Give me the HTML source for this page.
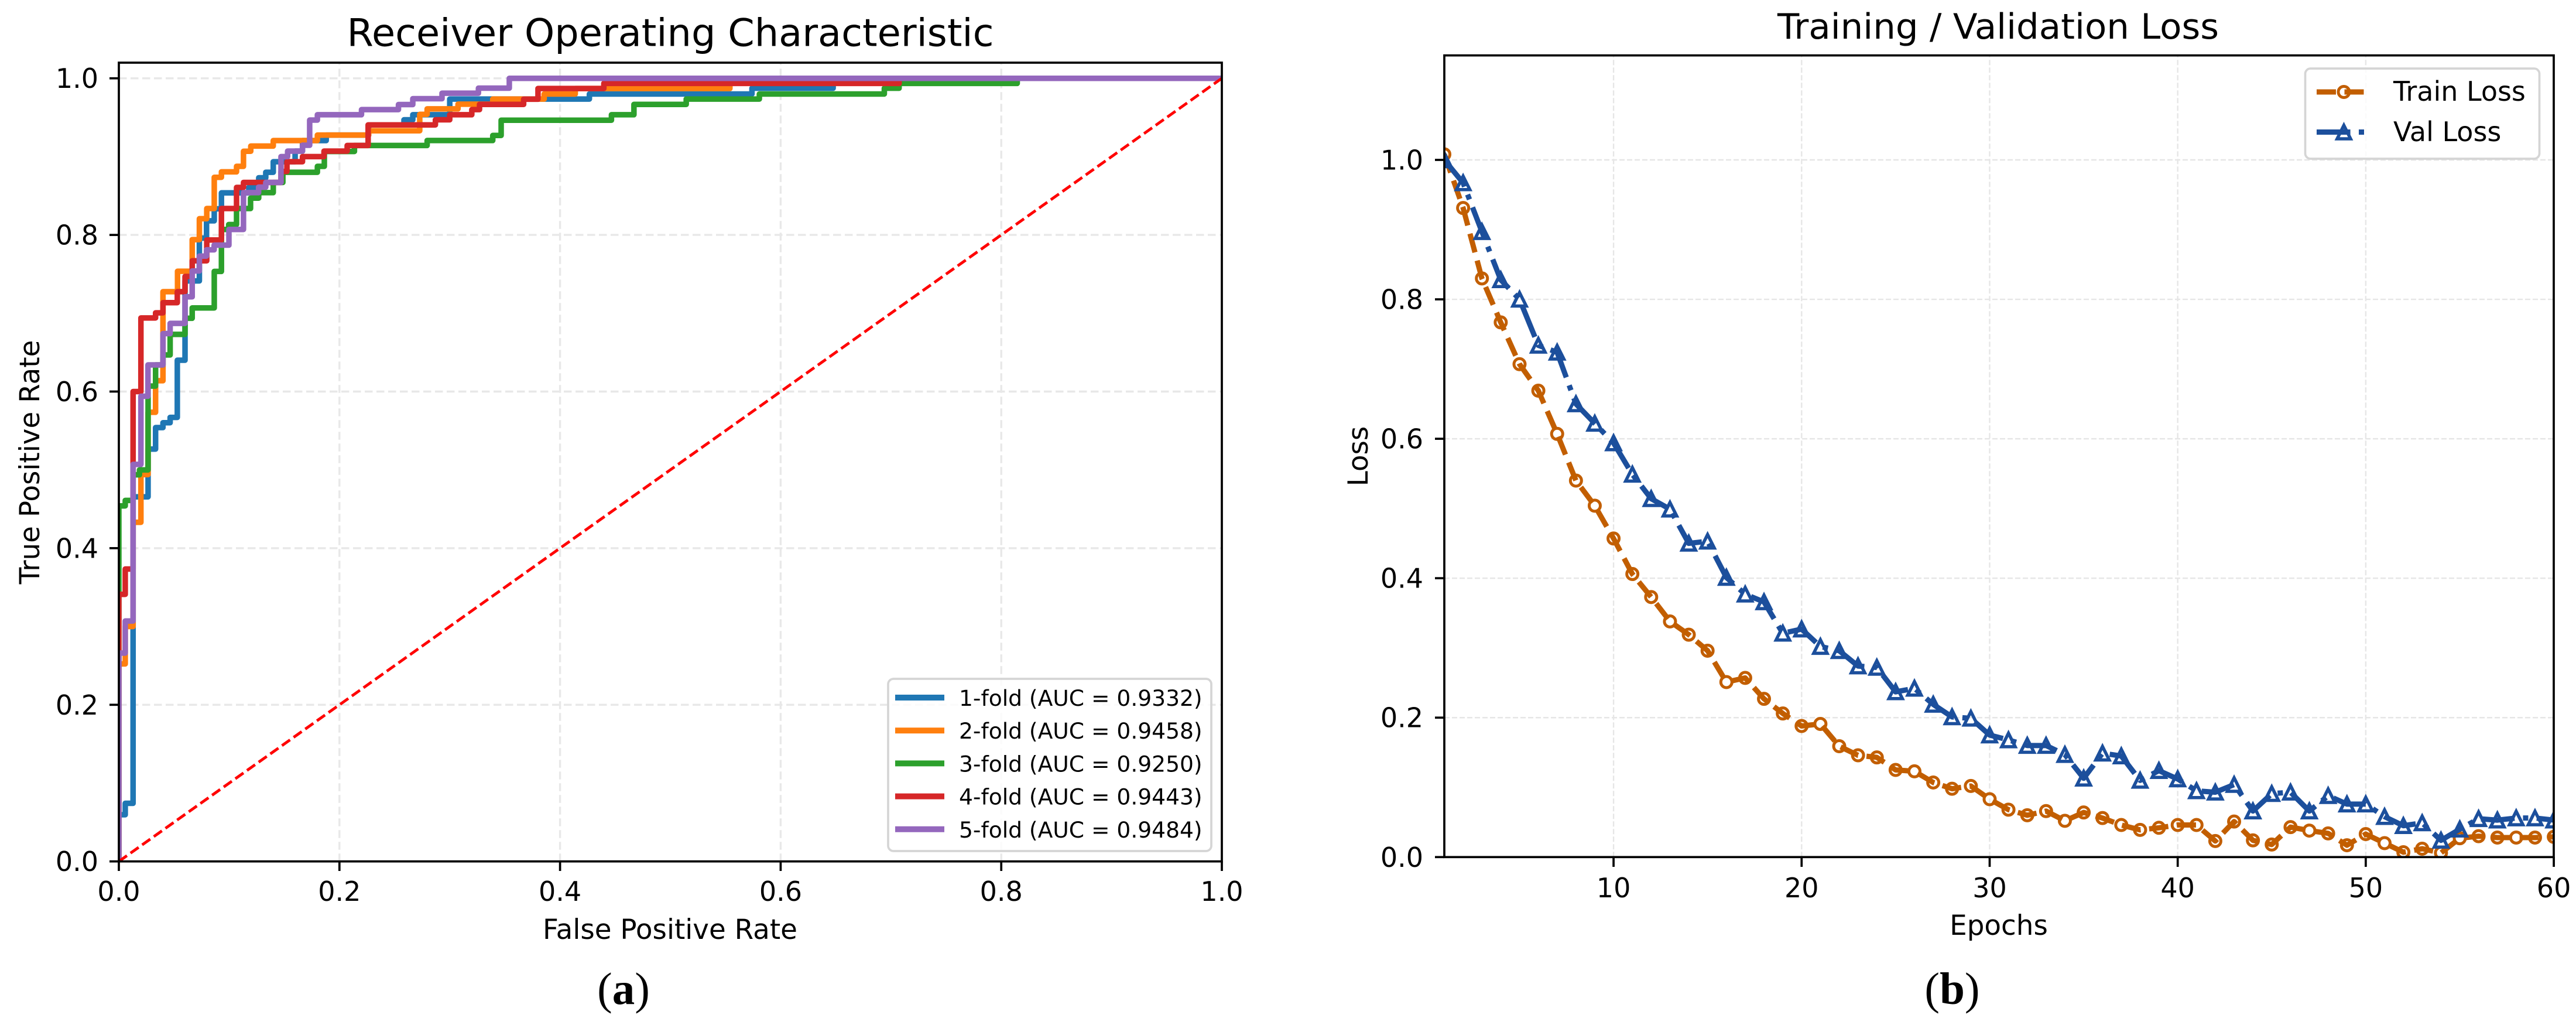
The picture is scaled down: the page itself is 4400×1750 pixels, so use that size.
<!DOCTYPE html>
<html lang="en">
<head>
<meta charset="utf-8">
<title>ROC and Loss Curves</title>
<style>
  html, body { margin: 0; padding: 0; background: #fff; }
  svg { display: block; }
  text { font-family: "DejaVu Sans", "Liberation Sans", sans-serif; fill: #000; }
  .caption { font-family: "Liberation Serif", serif; font-size: 77px; }
</style>
</head>
<body>
<svg id="figure" xmlns="http://www.w3.org/2000/svg" width="4400" height="1750" viewBox="0 0 4400 1750">
  <rect x="0" y="0" width="4400" height="1750" fill="#ffffff"/>
  <defs>
    <clipPath id="roc-clip"><rect x="203" y="107" width="1884" height="1363.7"/></clipPath>
    <clipPath id="loss-clip"><rect x="2467" y="94.6" width="1895" height="1368.7"/></clipPath>
  </defs>

  <g id="roc-grid" clip-path="url(#roc-clip)"></g>
  <g id="roc-series" clip-path="url(#roc-clip)"></g>
  <g id="roc-axes"></g>
  <rect x="203" y="107" width="1884" height="1363.7" fill="none" stroke="#000" stroke-width="3.7"/>
  <text x="1145" y="78.5" font-size="65" text-anchor="middle" textLength="1105" lengthAdjust="spacingAndGlyphs">Receiver Operating Characteristic</text>
  <text x="1144.5" y="1603" font-size="46.8" text-anchor="middle">False Positive Rate</text>
  <text transform="translate(67 789) rotate(-90)" font-size="46.8" text-anchor="middle">True Positive Rate</text>
  <g id="roc-legend">
    <rect x="1517" y="1159" width="552" height="294" rx="9" fill="#ffffff" fill-opacity="0.8" stroke="#d5d5d5" stroke-width="3.7"/>
  </g>
  <text class="caption" x="1065" y="1714" text-anchor="middle">(<tspan font-weight="bold">a</tspan>)</text>

  <g id="loss-grid" clip-path="url(#loss-clip)"></g>
  <g id="loss-series" clip-path="url(#loss-clip)"></g>
  <g id="loss-axes"></g>
  <rect x="2467" y="94.6" width="1895" height="1368.7" fill="none" stroke="#000" stroke-width="3.7"/>
  <text x="3413" y="66" font-size="60" text-anchor="middle" textLength="754" lengthAdjust="spacingAndGlyphs">Training / Validation Loss</text>
  <text x="3414" y="1596" font-size="46.8" text-anchor="middle">Epochs</text>
  <text transform="translate(2336 779) rotate(-90)" font-size="46.8" text-anchor="middle">Loss</text>
  <g id="loss-legend">
    <rect x="3937.5" y="117" width="400" height="154" rx="9" fill="#ffffff" fill-opacity="0.8" stroke="#d5d5d5" stroke-width="3.7"/>
  </g>
  <text class="caption" x="3334.5" y="1714" text-anchor="middle">(<tspan font-weight="bold">b</tspan>)</text>
</svg>

<script>
// ---------- ROC data: at each entry the curve runs right to fpr, then up to tpr ----------
const rocTicks = [0, 0.2, 0.4, 0.6, 0.8, 1.0];
const rocTickLabels = ['0.0', '0.2', '0.4', '0.6', '0.8', '1.0'];
const foldNames = ['1-fold (AUC = 0.9332)', '2-fold (AUC = 0.9458)', '3-fold (AUC = 0.9250)', '4-fold (AUC = 0.9443)', '5-fold (AUC = 0.9484)'];
const foldColors = ['#1f77b4', '#ff7f0e', '#2ca02c', '#d62728', '#9467bd'];
const fold1Fpr = [0, .0058, .0129, .0265, .0333, .040, .0465, .053, .060, .073, .0795, .0865, .093, .1178, .1268, .1332, .14, .1598, .1665, .188, .2265, .2585, .2665, .30, .4266, .574, .6476, 1];
const fold1Tpr = [.0596, .0742, .4656, .5265, .554, .5602, .567, .640, .7413, .796, .818, .8334, .8537, .8607, .873, .880, .8935, .907, .9205, .9275, .9405, .947, .9535, .9735, .980, .9873, 1, 1];
const fold2Fpr = [0, .0058, .0129, .020, .0265, .0333, .040, .0532, .0665, .073, .0797, .0865, .093, .1067, .113, .1196, .14, .18, .2265, .2728, .2795, .3075, .339, .3856, .4138, .554, 1];
const fold2Tpr = [.2522, .30, .433, .494, .5735, .6138, .7275, .7536, .794, .8207, .8337, .8736, .8806, .8876, .9068, .9135, .9205, .9275, .933, .954, .961, .967, .9735, .980, .987, 1, 1];
const fold3Fpr = [0, .0058, .0129, .0187, .0265, .0333, .040, .0465, .060, .0665, .0865, .093, .0996, .1067, .1194, .1268, .14, .1487, .18, .1863, .2136, .2795, .339, .3466, .4466, .467, .5144, .5807, .694, .7074, .8145, 1];
const fold3Tpr = [.454, .461, .4937, .5, .607, .634, .6467, .673, .6936, .7068, .7534, .807, .8133, .8337, .847, .854, .867, .880, .8876, .9066, .9142, .9206, .927, .9465, .9535, .9667, .9735, .980, .9873, .9935, 1, 1];
const fold4Fpr = [0, .0058, .0129, .020, .0333, .040, .053, .060, .0665, .0797, .093, .1067, .113, .147, .1524, .1665, .186, .207, .226, .287, .300, .320, .327, .367, .380, .4397, .7074, 1];
const fold4Tpr = [.341, .3734, .600, .694, .7005, .7135, .7275, .747, .767, .7935, .8337, .8607, .867, .881, .8935, .900, .907, .9142, .9405, .947, .9535, .960, .9667, .9733, .987, .9935, 1, 1];
const fold5Fpr = [0, .0058, .0129, .020, .0264, .040, .0465, .060, .0665, .073, .0795, .0864, .0998, .113, .1267, .1332, .147, .153, .1665, .173, .180, .22, .2535, .2665, .293, .326, .354, 1];
const fold5Tpr = [.266, .307, .507, .594, .634, .674, .687, .721, .754, .773, .781, .787, .807, .854, .861, .867, .900, .907, .9145, .9467, .9535, .960, .9665, .974, .981, .9874, 1, 1];
const foldFprs = [fold1Fpr, fold2Fpr, fold3Fpr, fold4Fpr, fold5Fpr];
const foldTprs = [fold1Tpr, fold2Tpr, fold3Tpr, fold4Tpr, fold5Tpr];
const chanceLineX = [0, 1];
const chanceLineY = [0, 1];

// ---------- Loss data ----------
const epochs = [1,2,3,4,5,6,7,8,9,10,11,12,13,14,15,16,17,18,19,20,21,22,23,24,25,26,27,28,29,30,31,32,33,34,35,36,37,38,39,40,41,42,43,44,45,46,47,48,49,50,51,52,53,54,55,56,57,58,59,60];
const trainLoss = [1.008,.931,.830,.767,.707,.669,.607,.540,.504,.457,.406,.373,.338,.319,.296,.251,.257,.227,.206,.188,.191,.159,.146,.143,.125,.123,.107,.098,.102,.083,.068,.060,.066,.052,.064,.056,.046,.039,.042,.046,.046,.023,.051,.024,.018,.043,.038,.034,.017,.033,.020,.007,.012,.006,.027,.030,.028,.028,.028,.029];
const valLoss = [1.0,.967,.897,.828,.80,.734,.724,.650,.622,.594,.549,.514,.499,.450,.453,.401,.377,.366,.321,.327,.302,.296,.274,.272,.237,.242,.219,.201,.199,.175,.168,.160,.160,.147,.113,.149,.145,.110,.124,.112,.095,.093,.104,.066,.091,.093,.066,.088,.076,.076,.058,.045,.049,.024,.040,.055,.053,.056,.056,.053];
const lossXTicks = [10, 20, 30, 40, 50, 60];
const lossYTicks = [0, 0.2, 0.4, 0.6, 0.8, 1.0];
const lossYTickLabels = ['0.0', '0.2', '0.4', '0.6', '0.8', '1.0'];
const lossSeriesNames = ['Train Loss', 'Val Loss'];

// ---------- Axis functions ----------
function rocX(v) { return 203 + 1884 * v; }
function rocY(v) { return 1470.7 - 1337 * v; }
function lossX(e) { return 2467 + 32.12 * (e - 1); }
function lossY(v) { return 1463.3 - 1190.3 * v; }

const NS = 'http://www.w3.org/2000/svg';
function add(tag, parentId) {
  const el = document.createElementNS(NS, tag);
  document.getElementById(parentId).appendChild(el);
  return el;
}
function place(el, attr, value) { el.setAttribute(attr, value); }

const TRAIN_COLOR = '#c25e00';
const VAL_COLOR = '#1c4f9c';
const TRAIN_DASH = '33 14.5';
const VAL_DASH = '57.6 14.4 9 14.4';

// ---------- ROC grid and ticks ----------
rocTicks.forEach((t, i) => {
  const gx = add('line', 'roc-grid');
  
  
  place(gx, 'x1', rocX(t)); place(gx, 'x2', rocX(t)); place(gx, 'y1', 1470.7); place(gx, 'y2', 107);
  place(gx, 'stroke', '#e8e8e8'); place(gx, 'stroke-width', 3.4); place(gx, 'stroke-dasharray', '13.5 6.5');

  const gy = add('line', 'roc-grid');
  
  
  place(gy, 'x1', 203); place(gy, 'x2', 2087); place(gy, 'y1', rocY(t)); place(gy, 'y2', rocY(t));
  place(gy, 'stroke', '#e8e8e8'); place(gy, 'stroke-width', 3.4); place(gy, 'stroke-dasharray', '13.5 6.5');

  const tx = add('line', 'roc-axes');
  
  
  place(tx, 'x1', rocX(t)); place(tx, 'x2', rocX(t)); place(tx, 'y1', 1470.7); place(tx, 'y2', 1487);
  place(tx, 'stroke', '#000'); place(tx, 'stroke-width', 3.7);

  const ty = add('line', 'roc-axes');
  
  
  place(ty, 'x1', 187); place(ty, 'x2', 203); place(ty, 'y1', rocY(t)); place(ty, 'y2', rocY(t));
  place(ty, 'stroke', '#000'); place(ty, 'stroke-width', 3.7);

  const lx = add('text', 'roc-axes');
  
  
  place(lx, 'x', rocX(t)); place(lx, 'y', 1538); place(lx, 'font-size', 46); place(lx, 'text-anchor', 'middle');
  lx.textContent = rocTickLabels[i];

  const ly = add('text', 'roc-axes');
  
  
  place(ly, 'x', 168); place(ly, 'y', rocY(t) + 16.5); place(ly, 'font-size', 46); place(ly, 'text-anchor', 'end');
  ly.textContent = rocTickLabels[i];
});

// ---------- ROC curves ----------
foldFprs.forEach((fpr, k) => {
  const tpr = foldTprs[k];
  let d = 'M' + rocX(0) + ' ' + rocY(0);
  fpr.forEach((f, i) => {
    d += ' H' + rocX(f) + ' V' + rocY(tpr[i]);
  });
  const p = add('path', 'roc-series');
  
  
  place(p, 'd', d); place(p, 'fill', 'none'); place(p, 'stroke', foldColors[k]);
  place(p, 'stroke-width', 9.5); place(p, 'stroke-linejoin', 'round');
});

const chance = add('line', 'roc-series');


place(chance, 'x1', rocX(chanceLineX[0])); place(chance, 'y1', rocY(chanceLineY[0]));
place(chance, 'x2', rocX(chanceLineX[1])); place(chance, 'y2', rocY(chanceLineY[1]));
place(chance, 'stroke', '#ff0000'); place(chance, 'stroke-width', 4.8); place(chance, 'stroke-dasharray', '17 7.4');

// ---------- ROC legend ----------
foldNames.forEach((name, k) => {
  const cy = 1191 + 56.2 * k;
  const h = add('line', 'roc-legend');
  
  
  place(h, 'x1', 1529); place(h, 'x2', 1613); place(h, 'y1', cy); place(h, 'y2', cy);
  place(h, 'stroke', foldColors[k]); place(h, 'stroke-width', 10);

  const t = add('text', 'roc-legend');
  
  
  place(t, 'x', 1638); place(t, 'y', cy + 14); place(t, 'font-size', 37.6);
  t.textContent = name;
});

// ---------- Loss grid and ticks ----------
lossXTicks.forEach((t) => {
  const g = add('line', 'loss-grid');
  
  
  place(g, 'x1', lossX(t)); place(g, 'x2', lossX(t)); place(g, 'y1', 1463.3); place(g, 'y2', 94.6);
  place(g, 'stroke', '#e6e6e6'); place(g, 'stroke-width', 2.4); place(g, 'stroke-dasharray', '9 4');

  const m = add('line', 'loss-axes');
  
  
  place(m, 'x1', lossX(t)); place(m, 'x2', lossX(t)); place(m, 'y1', 1463.3); place(m, 'y2', 1480);
  place(m, 'stroke', '#000'); place(m, 'stroke-width', 3.7);

  const l = add('text', 'loss-axes');
  
  
  place(l, 'x', lossX(t)); place(l, 'y', 1532); place(l, 'font-size', 46); place(l, 'text-anchor', 'middle');
  l.textContent = String(t);
});
lossYTicks.forEach((t, i) => {
  const g = add('line', 'loss-grid');
  
  
  place(g, 'x1', 2467); place(g, 'x2', 4362); place(g, 'y1', lossY(t)); place(g, 'y2', lossY(t));
  place(g, 'stroke', '#e6e6e6'); place(g, 'stroke-width', 2.4); place(g, 'stroke-dasharray', '9 4');

  const m = add('line', 'loss-axes');
  
  
  place(m, 'x1', 2451); place(m, 'x2', 2467); place(m, 'y1', lossY(t)); place(m, 'y2', lossY(t));
  place(m, 'stroke', '#000'); place(m, 'stroke-width', 3.7);

  const l = add('text', 'loss-axes');
  
  
  place(l, 'x', 2431); place(l, 'y', lossY(t) + 16.5); place(l, 'font-size', 46); place(l, 'text-anchor', 'end');
  l.textContent = lossYTickLabels[i];
});

// ---------- Loss series ----------
const CIRCLE_R = 9.5;
const TRI = 11.5;

const trainPath = add('polyline', 'loss-series');


place(trainPath, 'points', epochs.map((e, i) => lossX(e) + ',' + lossY(trainLoss[i])).join(' '));
place(trainPath, 'fill', 'none'); place(trainPath, 'stroke', TRAIN_COLOR); place(trainPath, 'stroke-width', 9);
place(trainPath, 'stroke-dasharray', TRAIN_DASH); place(trainPath, 'stroke-linejoin', 'round');

epochs.forEach((e, i) => {
  const c = add('circle', 'loss-series');
  
  
  place(c, 'cx', lossX(e)); place(c, 'cy', lossY(trainLoss[i])); place(c, 'r', CIRCLE_R);
  place(c, 'fill', 'none'); place(c, 'stroke', TRAIN_COLOR); place(c, 'stroke-width', 5);
});

const valPath = add('polyline', 'loss-series');


place(valPath, 'points', epochs.map((e, i) => lossX(e) + ',' + lossY(valLoss[i])).join(' '));
place(valPath, 'fill', 'none'); place(valPath, 'stroke', VAL_COLOR); place(valPath, 'stroke-width', 9);
place(valPath, 'stroke-dasharray', VAL_DASH); place(valPath, 'stroke-linejoin', 'round');

function triPoints(cx, cy) {
  return cx + ',' + (cy - TRI) + ' ' + (cx - TRI) + ',' + (cy + TRI) + ' ' + (cx + TRI) + ',' + (cy + TRI);
}
epochs.forEach((e, i) => {
  const t = add('polygon', 'loss-series');
  
  
  place(t, 'points', triPoints(lossX(e), lossY(valLoss[i])));
  place(t, 'fill', 'none'); place(t, 'stroke', VAL_COLOR); place(t, 'stroke-width', 5.5);
});

// ---------- Loss legend ----------
const trainHandle = add('line', 'loss-legend');


place(trainHandle, 'x1', 3957); place(trainHandle, 'x2', 4050); place(trainHandle, 'y1', 157); place(trainHandle, 'y2', 157);
place(trainHandle, 'stroke', TRAIN_COLOR); place(trainHandle, 'stroke-width', 9); place(trainHandle, 'stroke-dasharray', TRAIN_DASH);

const trainMarker = add('circle', 'loss-legend');


place(trainMarker, 'cx', 4003.5); place(trainMarker, 'cy', 157); place(trainMarker, 'r', CIRCLE_R);
place(trainMarker, 'fill', 'none'); place(trainMarker, 'stroke', TRAIN_COLOR); place(trainMarker, 'stroke-width', 5);

const trainLabel = add('text', 'loss-legend');


place(trainLabel, 'x', 4088); place(trainLabel, 'y', 172); place(trainLabel, 'font-size', 46);
trainLabel.textContent = lossSeriesNames[0];

const valHandle = add('line', 'loss-legend');


place(valHandle, 'x1', 3957); place(valHandle, 'x2', 4050); place(valHandle, 'y1', 225.5); place(valHandle, 'y2', 225.5);
place(valHandle, 'stroke', VAL_COLOR); place(valHandle, 'stroke-width', 9); place(valHandle, 'stroke-dasharray', VAL_DASH);

const valMarker = add('polygon', 'loss-legend');


place(valMarker, 'points', triPoints(4003.5, 225.5));
place(valMarker, 'fill', 'none'); place(valMarker, 'stroke', VAL_COLOR); place(valMarker, 'stroke-width', 5.5);

const valLabel = add('text', 'loss-legend');


place(valLabel, 'x', 4088); place(valLabel, 'y', 241); place(valLabel, 'font-size', 46);
valLabel.textContent = lossSeriesNames[1];
</script>
</body>
</html>
